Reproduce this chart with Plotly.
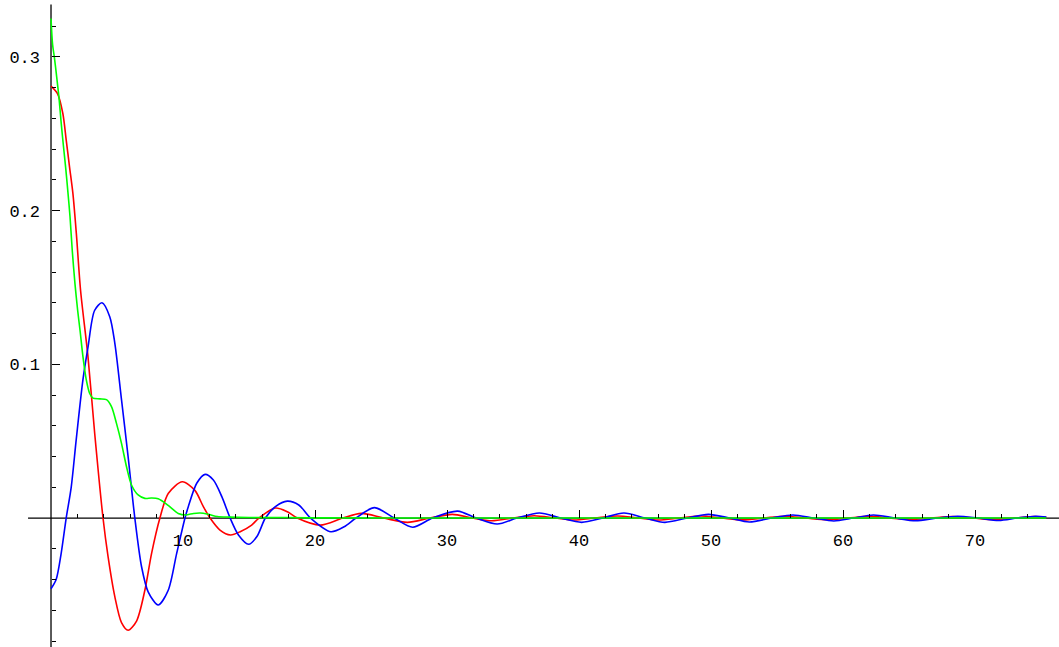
import plotly.graph_objects as go

# Red curve samples
red_x = [0, 0.5, 0.9, 1.15, 1.41, 1.66, 1.92, 2.24, 2.8, 3.31, 3.94, 4.32, 4.83, 5.34, 5.84,
         6.48, 7.11, 7.62, 8.25, 8.88, 9.95, 10.9, 11.54, 12.05, 12.8, 13.6, 14.33, 15.2,
         15.75, 17.0, 17.9, 18.65, 20.4, 22.1, 23.5, 25.2, 27.0, 28.7, 30.4, 31.9, 33.4,
         35.0, 36.6, 38.2, 39.6, 41.2, 42.9, 44.5, 46.0, 47.6, 49.2, 50.8, 52.4, 54.0,
         55.6, 57.2, 58.8, 60.4, 62.0, 63.5, 65.1, 66.7, 68.3, 69.9, 71.4, 73.0, 74.5, 75.4]
red_y = [0.281, 0.276, 0.263, 0.246, 0.228, 0.211, 0.185, 0.148, 0.105, 0.055, 0.0, -0.025,
         -0.051, -0.068, -0.073, -0.067, -0.047, -0.023, 0.0, 0.016, 0.0236, 0.018, 0.0074,
         0.0, -0.0078, -0.011, -0.0089, -0.0046, 0.0, 0.0065, 0.0041, 0.0, -0.0046, 0.0,
         0.003, 0.0, -0.0028, 0.0, 0.0024, 0.0, -0.0018, 0.0, 0.0015, 0.0, -0.0013, 0.0,
         0.0013, 0.0, -0.0013, 0.0, 0.0013, 0.0, -0.0012, 0.0, 0.0012, 0.0, -0.0011, 0.0,
         0.0011, 0.0, -0.001, 0.0, 0.001, 0.0, -0.001, 0.0, 0.001, 0.0004]

# Blue curve samples
blue_x = [0, 0.39, 0.77, 1.15, 1.53, 1.91, 2.42, 2.8, 3.3, 3.86, 4.45, 4.83, 5.34, 5.84,
          6.35, 6.86, 7.36, 8.12, 8.88, 9.52, 10.15, 10.4, 11.04, 11.67, 12.3, 12.94, 13.57,
          14.2, 14.97, 15.6, 16.24, 17.0, 17.9, 18.77, 19.66, 21.2, 22.2, 23.1, 24.5, 26.0,
          27.4, 28.9, 30.8, 32.2, 33.8, 35.3, 37.0, 38.6, 40.2, 41.8, 43.4, 45.0, 46.5,
          48.2, 49.8, 51.4, 52.9, 54.6, 56.2, 57.8, 59.3, 60.8, 62.3, 63.9, 65.5, 67.1,
          68.7, 70.2, 71.8, 73.2, 74.6, 75.4]
blue_y = [-0.046, -0.040, -0.023, 0.0, 0.020, 0.051, 0.090, 0.111, 0.135, 0.140, 0.131,
          0.114, 0.077, 0.040, 0.0, -0.0317, -0.048, -0.0566, -0.047, -0.023, 0.0, 0.0074,
          0.0226, 0.0284, 0.0247, 0.0139, 0.0, -0.011, -0.0171, -0.012, 0.0, 0.0074, 0.011,
          0.0085, 0.0, -0.0089, -0.0057, 0.0, 0.0068, 0.0, -0.006, 0.0, 0.0045, 0.0,
          -0.0039, 0.0, 0.0033, 0.0, -0.0028, 0.0, 0.0033, 0.0, -0.0028, 0.0, 0.0024, 0.0,
          -0.0026, 0.0, 0.002, 0.0, -0.0019, 0.0, 0.002, 0.0, -0.0018, 0.0, 0.0012, 0.0,
          -0.0016, 0.0, 0.0012, 0.0006]

# Green curve samples
green_x = [0, 0.12, 0.25, 0.43, 0.61, 0.76, 0.93, 1.11, 1.26, 1.44, 1.61, 1.82, 2.02, 2.2,
           2.42, 2.67, 2.93, 3.18, 3.7, 4.2, 4.58, 4.96, 5.34, 5.72, 6.1, 6.6, 7.11, 7.6,
           8.12, 8.88, 9.64, 10.2, 10.8, 11.3, 11.9, 12.6, 13.5, 15.0, 17.5, 20.0, 30.0,
           45.0, 60.0, 75.4]
green_y = [0.325, 0.308, 0.300, 0.287, 0.273, 0.258, 0.243, 0.228, 0.214, 0.196, 0.174,
           0.152, 0.135, 0.122, 0.105, 0.090, 0.081, 0.078, 0.0775, 0.077, 0.0725, 0.0616,
           0.0486, 0.0334, 0.0215, 0.015, 0.0128, 0.013, 0.0125, 0.0082, 0.003, 0.002,
           0.003, 0.0033, 0.0025, 0.001, 0.0006, 0.0003, 0.0003, 0.0001, 0.0, 0.0, 0.0, 0.0]

# Axis ticks
x_major = [10, 20, 30, 40, 50, 60, 70]
x_minor = [v for v in range(2, 76, 2) if v % 10 != 0]
y_major = [0.1, 0.2, 0.3]
y_labels = ["0.1", "0.2", "0.3"]
y_minor = [round(-0.08 + 0.02 * i, 2) for i in range(21)]
y_minor = [v for v in y_minor if abs(round(v * 10) - v * 10) > 1e-6]

X_RANGE = [-3.864, 76.36]
Y_RANGE = [-0.0839, 0.337]

fig = go.Figure()
for xs, ys, col in [(red_x, red_y, "#ff0000"), (blue_x, blue_y, "#0000ff"),
                    (green_x, green_y, "#00ff00")]:
    fig.add_trace(go.Scatter(x=xs, y=ys, mode="lines",
                             line=dict(color=col, width=1.6, shape="spline", smoothing=0.8),
                             showlegend=False, hoverinfo="skip"))

# Axis lines crossing at the origin
fig.add_shape(type="line", x0=-1.74, x1=X_RANGE[1], y0=0, y1=0, layer="below",
              line=dict(color="black", width=1.3))
fig.add_shape(type="line", x0=0, x1=0, y0=Y_RANGE[0], y1=0.334, layer="below",
              line=dict(color="black", width=1.3))

x_pos = (0 - Y_RANGE[0]) / (Y_RANGE[1] - Y_RANGE[0])
y_pos = (0 - X_RANGE[0]) / (X_RANGE[1] - X_RANGE[0])

tick_font = dict(family="Liberation Mono", size=17, color="black")

fig.update_layout(
    width=1059, height=647, autosize=False,
    margin=dict(l=0, r=0, t=0, b=0, pad=0),
    paper_bgcolor="white", plot_bgcolor="white",
    xaxis=dict(range=X_RANGE, anchor="free", position=x_pos, showline=False,
               zeroline=False, showgrid=False, ticks="inside", ticklen=8, tickwidth=1,
               tickcolor="black", tickvals=x_major, ticktext=[str(v) for v in x_major],
               tickfont=tick_font, ticklabelstandoff=10,
               minor=dict(tickvals=x_minor, ticks="inside", ticklen=4, tickwidth=1,
                          tickcolor="black", showgrid=False)),
    yaxis=dict(range=Y_RANGE, anchor="free", position=y_pos, showline=False,
               zeroline=False, showgrid=False, ticks="inside", ticklen=8, tickwidth=1,
               tickcolor="black", tickvals=y_major, ticktext=y_labels,
               tickfont=tick_font, ticklabelstandoff=11,
               minor=dict(tickvals=y_minor, ticks="inside", ticklen=4, tickwidth=1,
                          tickcolor="black", showgrid=False)),
)

fig.write_html("out.html")
